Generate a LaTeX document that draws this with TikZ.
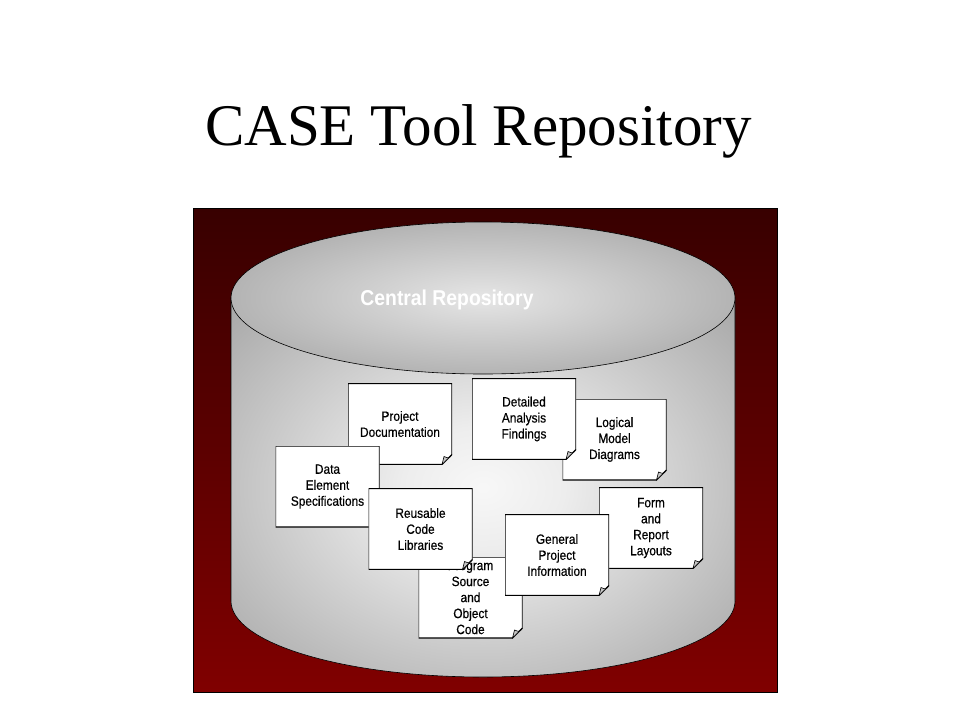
\documentclass[tikz,border=0pt]{standalone}
\usepackage{fontspec}
\newfontfamily\titlefont{Liberation Serif}
\newfontfamily\docfont[FakeStretch=0.88,FakeBold=0.5]{Liberation Sans}
\newfontfamily\repofont[FakeStretch=0.9]{Liberation Sans}
\usetikzlibrary{calc}
\definecolor{wine}{RGB}{128,0,0}
\definecolor{winedark}{RGB}{56,0,0}
\pgfdeclareradialshading{drum}{\pgfpointorigin}{color(0bp)=(gray!6); color(8bp)=(gray!14); color(48bp)=(gray!95); color(72bp)=(black!58)}
\pgfdeclareradialshading{lid}{\pgfpointorigin}{color(0bp)=(gray!20); color(48bp)=(gray!95); color(72bp)=(black!58)}

\begin{document}
\begin{tikzpicture}[x=1pt,y=1pt,
 doc/.style={minimum width=104pt,minimum height=81pt,inner sep=0pt,align=center,
  font=\docfont\fontsize{13.5}{16}\selectfont,
  path picture={
   \filldraw[fill=white,line width=1.2pt] (path picture bounding box.north west) -- (path picture bounding box.north east)
    -- ([yshift=10pt]path picture bounding box.south east) -- ([xshift=-10pt]path picture bounding box.south east)
    -- (path picture bounding box.south west) -- cycle;
   \filldraw[fill=gray!45,line width=.6pt] ([xshift=-10pt]path picture bounding box.south east)
    -- ([yshift=10pt]path picture bounding box.south east)
    .. controls ([shift={(-3pt,6pt)}]path picture bounding box.south east) .. ([shift={(-8pt,8pt)}]path picture bounding box.south east)
    -- cycle;}},
 drumtext/.style={text=white,font=\repofont\bfseries\fontsize{21.5}{21.5}\selectfont}]
\useasboundingbox (0,0) rectangle (960,-720);
\node[font=\titlefont\fontsize{59}{59}\selectfont,anchor=base] (title) at (478.5,-145) {CASE Tool Repository};
% backdrop and cylinder
\shadedraw[top color=winedark,bottom color=wine,draw=black] (193,-208) rectangle (777,-692);
\shadedraw[shading=drum,draw=black,line width=.6pt] (231,-298) -- (231,-601)
  arc[start angle=180,end angle=360,x radius=252,y radius=76] -- (735,-298) -- cycle;
\shadedraw[shading=lid,draw=black,line width=.6pt] (483,-298) ellipse[x radius=252,y radius=76];
\node[drumtext] (central) at (447,-300) {Central Repository};
% documents, back to front
\node[doc] (proj) at (400,-424) {Project\\Documentation};
\node[doc] (data) at (327.5,-486.5) {Data\\Element\\Specifications};
\node[doc] (logic) at (614.5,-439.5) {Logical\\Model\\Diagrams};
\node[doc] (detail) at (524,-419) {Detailed\\Analysis\\Findings};
\node[doc] (form) at (651,-528) {Form\\and\\Report\\Layouts};
\node[doc] (prog) at (470.5,-597.5) {Program\\Source\\and\\Object\\Code};
\node[doc] (reuse) at (420.5,-529) {Reusable\\Code\\Libraries};
\node[doc] (general) at (557,-555) {General\\Project\\Information};
\end{tikzpicture}
\end{document}
